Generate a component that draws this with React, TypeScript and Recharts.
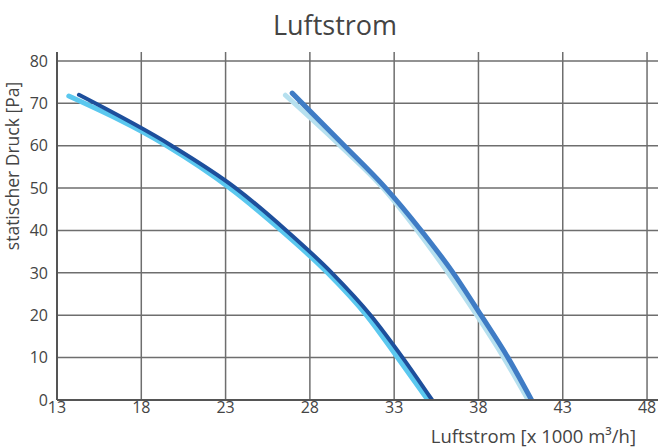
import { LineChart, Line, XAxis, YAxis, CartesianGrid } from "recharts";

// Kennlinien: Luftstrom [x 1000 m³/h] gegen statischen Druck [Pa]
const seriesA_dark = [
  { x: 14.3, y: 72 },
  { x: 19.8, y: 60 },
  { x: 23.6, y: 50 },
  { x: 26.6, y: 40 },
  { x: 29.3, y: 30 },
  { x: 31.6, y: 20 },
  { x: 33.5, y: 10 },
  { x: 35.25, y: 0 },
];

const seriesA_light = [
  { x: 13.7, y: 71.7 },
  { x: 19.5, y: 60 },
  { x: 23.25, y: 50 },
  { x: 26.3, y: 40 },
  { x: 29.05, y: 30 },
  { x: 31.35, y: 20 },
  { x: 33.2, y: 10 },
  { x: 35.0, y: 0 },
];

const seriesC_mid = [
  { x: 26.95, y: 72.4 },
  { x: 30.05, y: 60 },
  { x: 32.5, y: 50 },
  { x: 34.6, y: 40 },
  { x: 36.5, y: 30 },
  { x: 38.15, y: 20 },
  { x: 39.75, y: 10 },
  { x: 41.15, y: 0 },
];

const seriesC_light = [
  { x: 26.55, y: 71.9 },
  { x: 29.8, y: 60 },
  { x: 32.35, y: 50 },
  { x: 34.37, y: 40 },
  { x: 36.2, y: 30 },
  { x: 37.9, y: 20 },
  { x: 39.5, y: 10 },
  { x: 40.95, y: 0 },
];

const xTicks = [13, 18, 23, 28, 33, 38, 43, 48];
const yTicks = [0, 10, 20, 30, 40, 50, 60, 70, 80];

const FONT = "'Open Sans', sans-serif";
const TEXT = "#444";

export default function App() {
  return (
    <div
      style={{
        position: "absolute",
        left: 0,
        top: 0,
        width: 658,
        height: 448,
        background: "#fff",
        fontFamily: FONT,
        overflow: "hidden",
      }}
    >
      <div
        style={{
          position: "absolute",
          left: 185,
          width: 300,
          top: 7,
          textAlign: "center",
          fontSize: 27,
          color: TEXT,
          lineHeight: "36px",
        }}
      >
        Luftstrom
      </div>
      <div
        style={{
          position: "absolute",
          left: 12 - 120,
          top: 166 - 11,
          width: 240,
          height: 22,
          lineHeight: "22px",
          textAlign: "center",
          fontSize: 17.5,
          color: TEXT,
          transform: "rotate(-90deg)",
          whiteSpace: "nowrap",
        }}
      >
        statischer Druck [Pa]
      </div>
      <div
        style={{
          position: "absolute",
          right: 22,
          top: 426,
          fontSize: 18.5,
          color: TEXT,
          lineHeight: "20px",
          whiteSpace: "nowrap",
        }}
      >
        Luftstrom [x 1000 m³/h]
      </div>
      <LineChart
        width={658}
        height={448}
        margin={{ top: 52, right: 0, bottom: 0, left: 0 }}
      >
        <CartesianGrid stroke="#6e6e6e" strokeWidth={1.5} syncWithTicks />
        <XAxis
          type="number"
          dataKey="x"
          domain={[13, 48.65]}
          ticks={xTicks}
          allowDataOverflow
          height={48}
          tickLine={false}
          tickSize={0}
          tickMargin={2}
          axisLine={{ stroke: "#555", strokeWidth: 2 }}
          tick={{ fill: TEXT, fontSize: 16, fontFamily: FONT }}
        />
        <YAxis
          type="number"
          dataKey="y"
          domain={[0, 82.1]}
          ticks={yTicks}
          allowDataOverflow
          width={57}
          tickLine={false}
          tickSize={0}
          tickMargin={9}
          axisLine={{ stroke: "#555", strokeWidth: 2 }}
          tick={{ fill: TEXT, fontSize: 16, fontFamily: FONT }}
        />
        <Line
          data={seriesA_light}
          dataKey="y"
          type="monotone"
          stroke="#5bc8ef"
          strokeWidth={5}
          strokeLinecap="round"
          dot={false}
          isAnimationActive={false}
        />
        <Line
          data={seriesA_dark}
          dataKey="y"
          type="monotone"
          stroke="#1d4f9c"
          strokeWidth={4}
          strokeLinecap="round"
          dot={false}
          isAnimationActive={false}
        />
        <Line
          data={seriesC_light}
          dataKey="y"
          type="monotone"
          stroke="#b6e0ef"
          strokeWidth={5}
          strokeLinecap="round"
          dot={false}
          isAnimationActive={false}
        />
        <Line
          data={seriesC_mid}
          dataKey="y"
          type="monotone"
          stroke="#3f7cc5"
          strokeWidth={5}
          strokeLinecap="round"
          dot={false}
          isAnimationActive={false}
        />
      </LineChart>
    </div>
  );
}
